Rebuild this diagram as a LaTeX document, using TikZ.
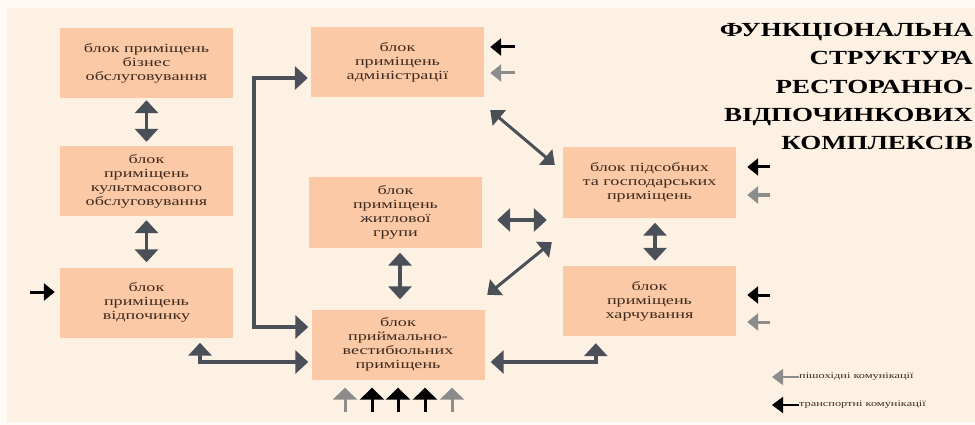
\documentclass[tikz,border=0pt]{standalone}
\usepackage{fontspec}
\setmainfont{Liberation Serif}
\newfontfamily\blokfont[FakeStretch=1.45]{Liberation Serif}
\newfontfamily\titlefont[FakeStretch=1.35]{Liberation Serif}
\usepackage{tikz}
\usetikzlibrary{arrows.meta,positioning,calc}
\definecolor{outerbg}{HTML}{FFFAF5}
\definecolor{panelbg}{HTML}{FDF1E4}
\definecolor{blokfill}{HTML}{FBC9A5}
\definecolor{bloktext}{HTML}{3E2A1E}
\definecolor{zvgray}{HTML}{4B5058}
\definecolor{pishgray}{HTML}{8C8C8C}
\tikzstyle{blok}   =[rectangle, fill=blokfill, minimum width=173pt,
                     minimum height=70pt, inner sep=0pt, align=center,
                     text=bloktext, font=\blokfont\fontsize{12.5}{14}\selectfont]
\tikzstyle{dvobik} =[draw=zvgray, line width=3.5pt, <->,
                     >={Triangle[width=23pt,length=13pt]}]
\tikzstyle{diag}   =[draw=zvgray, line width=3pt, <->,
                     >={Triangle[width=20pt,length=12pt]}]
\tikzstyle{transp} =[draw=black, line width=3pt, ->,
                     >={Triangle[width=17pt,length=11pt]}]
\tikzstyle{pish}   =[transp, draw=pishgray]
\tikzstyle{legtext}=[inner sep=0pt, anchor=west, text=bloktext,
                     font=\blokfont\fontsize{8.5}{9}\selectfont]

\begin{document}
\begin{tikzpicture}[x=1pt, y=-1pt]
    \useasboundingbox (0,0) rectangle (975,425);
    \fill[outerbg] (0,0) rectangle (975,425);
    \fill[panelbg] (7,8) rectangle (975,422);

    % title
    \node[inner sep=0pt, anchor=north east, align=right,
          font=\titlefont\bfseries\fontsize{20}{28.3}\selectfont] (title)
          at (973,23) {ФУНКЦІОНАЛЬНА\\СТРУКТУРА\\РЕСТОРАННО-\\ВІДПОЧИНКОВИХ\\КОМПЛЕКСІВ};

    % blocks
    \node[blok] (biz)   at (146.5,63)  {блок приміщень\\бізнес\\обслуговування};
    \node[blok] (kult)  at (146.5,181) {блок\\приміщень\\культмасового\\обслуговування};
    \node[blok] (vidp)  at (146.5,302.5) {блок\\приміщень\\відпочинку};
    \node[blok] (adm)   at (397.5,62.5) {блок\\приміщень\\адміністрації};
    \node[blok] (zhytl) at (395.5,212.5) {блок\\приміщень\\житлової\\групи};
    \node[blok] (vest)  at (398,344.5) {блок\\приймально-\\вестибюльних\\приміщень};
    \node[blok] (pids)  at (649.5,182.5) {блок підсобних\\та господарських\\приміщень};
    \node[blok] (harch) at (649.5,301) {блок\\приміщень\\харчування};

    % links between blocks
    \draw[dvobik, shorten <=2pt, shorten >=4pt] (biz) -- (kult);
    \draw[dvobik, shorten <=4pt, shorten >=5pt] (kult) -- (vidp);
    \draw[dvobik, shorten <=3pt, shorten >=3pt]
        ([yshift=-15.5pt]adm.west) -- ++(-57,0) |- ([yshift=17.5pt]vest.west);
    \draw[dvobik, shorten <=5pt, shorten >=3pt]
        ([xshift=53.5pt]vidp.south) |- ([yshift=-17.5pt]vest.west);
    \draw[dvobik, shorten <=5pt, shorten >=10pt]
        ([xshift=4.5pt]zhytl.south) -- ([xshift=4.5pt]zhytl.south |- vest.north);
    \draw[dvobik, shorten <=15pt, shorten >=16pt]
        ([yshift=-7.5pt]zhytl.east) -- ([yshift=-7.5pt]zhytl.east -| pids.west);
    \draw[diag] ([xshift=6pt,yshift=-12.5pt]adm.south east)
        -- ([xshift=-8pt,yshift=-17.5pt]pids.north west);
    \draw[diag] ([xshift=2.5pt,yshift=14.5pt]vest.north east)
        -- ([xshift=-11pt,yshift=-24.5pt]pids.south west);
    \draw[dvobik, shorten <=6pt, shorten >=7pt]
        ([yshift=-17.5pt]vest.east) -| ([xshift=33pt]harch.south west);
    \draw[dvobik, shorten <=5pt, shorten >=5pt]
        ([xshift=5.5pt]pids.south) -- ([xshift=5.5pt]harch.north);

    % incoming communications
    \coordinate (vidpin) at (30,292);
    \draw[transp, shorten >=5pt] (vidpin) -- (vidpin -| vidp.west);
    \foreach \y/\st in {47/transp, 73/pish} {
        \coordinate (admin) at (515,\y);
        \draw[\st, shorten >=6pt] (admin) -- (admin -| adm.east);
    }
    \foreach \y/\st in {167/transp, 195/pish} {
        \coordinate (pidsin) at (770,\y);
        \draw[\st, shorten >=11pt] (pidsin) -- (pidsin -| pids.east);
    }
    \foreach \y/\st in {295/transp, 322/pish} {
        \coordinate (harchin) at (770,\y);
        \draw[\st, shorten >=11pt] (harchin) -- (harchin -| harch.east);
    }
    \foreach \x/\st in {345/pish, 372/transp, 398/transp, 425/transp, 452/pish} {
        \coordinate (vestin) at (\x,412);
        \draw[\st, >={Triangle[width=24pt,length=12pt]}, shorten >=8pt]
            (vestin) -- (vestin |- vest.south);
    }

    % legend
    \node[legtext] (lpish)   at (799,377) {пішохідні комунікації};
    \node[legtext] (ltransp) at (799,405) {транспортні комунікації};
    \draw[pish, line width=2pt, >={Triangle[width=16pt,length=11pt]}]
        (lpish.west) -- ++(-27,0);
    \draw[transp, line width=2pt, >={Triangle[width=16pt,length=11pt]}]
        (ltransp.west) -- ++(-27,0);
\end{tikzpicture}
\end{document}
